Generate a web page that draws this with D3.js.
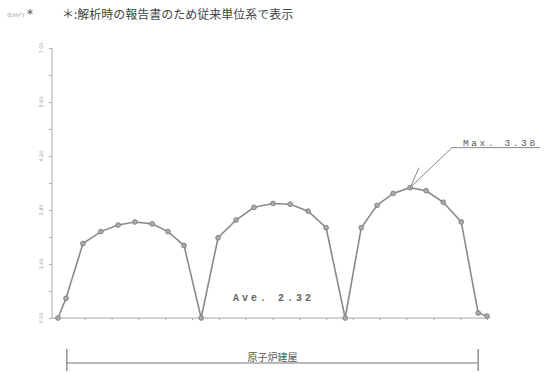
<!DOCTYPE html>
<html><head><meta charset="utf-8">
<script src="https://cdn.jsdelivr.net/npm/d3@7"></script>
<style>body{margin:0;background:#fff}svg{display:block}</style>
</head><body><svg id="c" width="544" height="374"></svg>
<script>
// ---- data ----
const archX1 = [0, 0.30, 0.93, 1.60, 2.24, 2.87, 3.51, 4.10, 4.70, 5.34];
const archY1 = [0, 0.51, 1.93, 2.24, 2.41, 2.49, 2.44, 2.24, 1.88, 0];
const archX2 = [5.34, 5.97, 6.64, 7.31, 8.02, 8.66, 9.33, 10.00, 10.71];
const archY2 = [0, 2.08, 2.54, 2.87, 2.97, 2.95, 2.77, 2.34, 0];
const archX3 = [10.71, 11.31, 11.90, 12.50, 13.13, 13.73, 14.37, 15.04, 15.67, 16.00];
const archY3 = [0, 2.34, 2.92, 3.23, 3.38, 3.30, 3.00, 2.49, 0.13, 0.05];
const yTicks = [0, 1.4, 2.8, 4.2, 5.6, 7.0];
const yMinor = [0.7, 2.1, 3.5, 4.9, 6.3];
const xTicks = d3.range(0, 17, 1);
const maxLabel = "Max. 3.38";
const maxValue = 3.38;
const aveLabel = "Ave. 2.32";
const unitLabel = "(t/m²)";
const noteLabel = "＊:解析時の報告書のため従来単位系で表示";
const spanLabel = "原子炉建屋";
const spanRange = [0.33, 15.67];

const svg = d3.select("#c");
const x = d3.scaleLinear().domain([0, 16]).range([58, 487]);
const y = d3.scaleLinear().domain([0, 7]).range([318, 48]);
const gray = "#8a8a8a";

const pts = [];
[[archX1, archY1], [archX2, archY2], [archX3, archY3]].forEach(([xs, ys]) => {
  xs.forEach((v, i) => {
    if (pts.length && pts[pts.length - 1][0] === v && pts[pts.length - 1][1] === ys[i]) return;
    pts.push([v, ys[i]]);
  });
});

// header
svg.append("text").attr("x", 7).attr("y", 17).attr("font-size", 6).attr("fill", "#999")
  .attr("font-family", "DejaVu Sans").text(unitLabel);
svg.append("text").attr("x", 27).attr("y", 18).attr("font-size", 12).attr("fill", "#555")
  .attr("font-family", "DejaVu Sans").text("*");
svg.append("text").attr("x", 62).attr("y", 19).attr("font-size", 12).attr("fill", "#444")
  .attr("font-family", "Noto Sans CJK JP").text(noteLabel);

// y axis
const yAxis = d3.axisLeft(y).tickValues(yTicks.concat(yMinor)).tickSize(3).tickFormat("");
const ga = svg.append("g").attr("transform", "translate(52,0)").call(yAxis);
ga.selectAll("path,line").attr("stroke", "#aaa").attr("stroke-width", 1);
ga.select(".domain").attr("d", `M-0,${y(7)}V${y(0)}`);
yTicks.forEach(t => {
  svg.append("text").attr("transform", `translate(43,${y(t)}) rotate(-90)`)
    .attr("text-anchor", "middle").attr("font-size", 5).attr("fill", "#999")
    .attr("font-family", "DejaVu Sans").text(t.toFixed(2));
});

// x axis
const xAxis = d3.axisBottom(x).tickValues(xTicks).tickSize(2).tickFormat("");
const gx = svg.append("g").attr("transform", `translate(0,${y(0)})`).call(xAxis);
gx.selectAll("path,line").attr("stroke", "#aaa").attr("stroke-width", 1);
gx.select(".domain").attr("d", `M52,0H490`);

// line
svg.append("path").datum(pts)
  .attr("d", d3.line().x(d => x(d[0])).y(d => y(d[1])))
  .attr("fill", "none").attr("stroke", gray).attr("stroke-width", 1.6);
svg.selectAll("circle.p").data(pts).join("circle").attr("class", "p")
  .attr("cx", d => x(d[0])).attr("cy", d => y(d[1])).attr("r", 2.4)
  .attr("fill", "#aaa").attr("stroke", "#777").attr("stroke-width", 0.8);

// max annotation
const px = x(archX3[archY3.indexOf(maxValue)]), py = y(maxValue);
svg.append("path").attr("d", `M${px},${py}L${px + 42},${py - 40}H540`)
  .attr("fill", "none").attr("stroke", gray).attr("stroke-width", 1);
svg.append("path").attr("d", `M${px + 1},${py - 2}L${px + 9},${py - 20}`)
  .attr("fill", "none").attr("stroke", gray).attr("stroke-width", 1);
svg.append("text").attr("x", 463).attr("y", py - 42).attr("font-size", 9.5)
  .attr("letter-spacing", 2.6).attr("fill", "#555").attr("font-family", "Liberation Mono")
  .text(maxLabel);

// average
svg.append("text").attr("x", 233).attr("y", 301).attr("font-size", 10)
  .attr("letter-spacing", 3).attr("fill", "#666").attr("font-family", "Liberation Mono")
  .attr("font-weight", "bold").text(aveLabel);

// span bracket
const by = 363;
svg.append("path")
  .attr("d", `M${x(spanRange[0])},349V371M${x(spanRange[0])},${by}H${x(spanRange[1])}M${x(spanRange[1])},349V371`)
  .attr("fill", "none").attr("stroke", "#777").attr("stroke-width", 1.2);
svg.append("text").attr("x", (x(spanRange[0]) + x(spanRange[1])) / 2).attr("y", 361)
  .attr("text-anchor", "middle").attr("font-size", 10).attr("fill", "#555")
  .attr("font-family", "Noto Sans CJK JP").text(spanLabel);
</script></body></html>
